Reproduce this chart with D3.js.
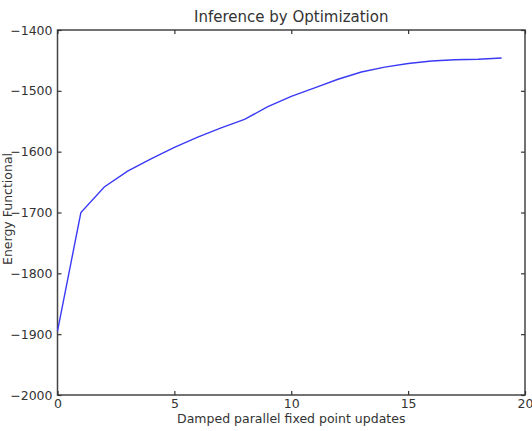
<!DOCTYPE html>
<html>
<head>
<meta charset="utf-8">
<script src="https://cdn.jsdelivr.net/npm/d3@7"></script>
<style>
  body { margin: 0; background: white; }
  svg { display: block; font-family: "DejaVu Sans", sans-serif; }
</style>
</head>
<body>
<div class="content"></div>
<script>
// data
const steps = d3.range(0, 20)
const energy = [-1895, -1700, -1658, -1632, -1612, -1593, -1576, -1561, -1547, -1526,
  -1509, -1495, -1481, -1469, -1461, -1455, -1451, -1449, -1448, -1446]
const xTicks = [0, 5, 10, 15, 20]
const yTicks = [-2000, -1900, -1800, -1700, -1600, -1500, -1400]

const width = 532
const height = 431
const plotLeft = 57.5
const plotRight = 525
const plotTop = 30
const plotBottom = 395
const ink = '#333'

const svg = d3.select('div.content')
  .append('svg')
  .attr('width', width)
  .attr('height', height)

const x = d3.scaleLinear().domain([0, 20]).range([plotLeft, plotRight])
const y = d3.scaleLinear().domain([-2000, -1400]).range([plotBottom, plotTop])

const fmt = d => d < 0 ? '\u2212' + Math.abs(d) : String(d)

// frame
svg.append('rect')
  .attr('x', plotLeft).attr('y', plotTop)
  .attr('width', plotRight - plotLeft).attr('height', plotBottom - plotTop)
  .attr('fill', 'white').attr('stroke', '#444').attr('stroke-width', 1.5)

// line
const line = d3.line()
  .x((d, i) => x(steps[i]))
  .y(d => y(d))
svg.append('path')
  .datum(energy)
  .attr('d', line)
  .attr('fill', 'none')
  .attr('stroke', '#3a3af5')
  .attr('stroke-width', 1.4)

// axes, ticks pointing inward like matplotlib
svg.append('g')
  .attr('transform', `translate(0, ${plotBottom})`)
  .call(d3.axisBottom(x).tickValues(xTicks).tickSize(-4).tickPadding(4).tickFormat(fmt))
svg.append('g')
  .attr('transform', `translate(0, ${plotTop})`)
  .call(d3.axisTop(x).tickValues(xTicks).tickSize(-4).tickFormat(''))
svg.append('g')
  .attr('transform', `translate(${plotLeft}, 0)`)
  .call(d3.axisLeft(y).tickValues(yTicks).tickSize(-4).tickPadding(5).tickFormat(fmt))
svg.append('g')
  .attr('transform', `translate(${plotRight}, 0)`)
  .call(d3.axisRight(y).tickValues(yTicks).tickSize(-4).tickFormat(''))

svg.selectAll('.domain').remove()
svg.selectAll('.tick line').attr('stroke', '#333').attr('stroke-width', 1.2)
svg.selectAll('.tick text')
  .attr('font-family', '"DejaVu Sans", sans-serif')
  .attr('font-size', 12.5)
  .attr('fill', ink)

// labels
svg.append('text')
  .attr('x', (plotLeft + plotRight) / 2).attr('y', 22)
  .attr('text-anchor', 'middle')
  .attr('font-size', 15)
  .attr('fill', ink)
  .text('Inference by Optimization')

svg.append('text')
  .attr('x', (plotLeft + plotRight) / 2).attr('y', 423)
  .attr('text-anchor', 'middle')
  .attr('font-size', 12.5)
  .attr('fill', ink)
  .text('Damped parallel fixed point updates')

svg.append('text')
  .attr('transform', `translate(12, 209) rotate(-90)`)
  .attr('text-anchor', 'middle')
  .attr('font-size', 12.5)
  .attr('fill', ink)
  .text('Energy Functional')
</script>
</body>
</html>
